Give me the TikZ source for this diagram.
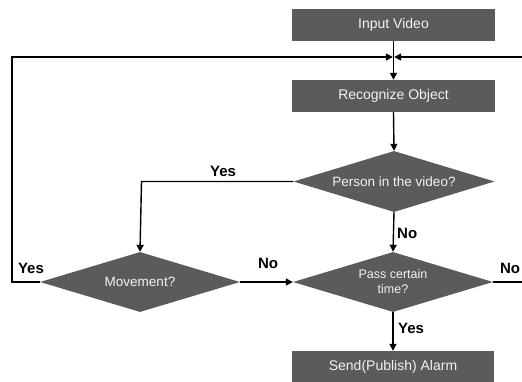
\documentclass[tikz,border=0pt]{standalone}
\usepackage{fontspec}
\setmainfont{Liberation Sans}
\usetikzlibrary{shapes.geometric,arrows.meta}
\definecolor{boxgray}{HTML}{5B5B5B}
\definecolor{boxtext}{HTML}{F2F2F2}
\tikzset{
  procbox/.style={rectangle, fill=boxgray, text=boxtext, minimum width=203pt, minimum height=32pt, inner sep=0pt, font=\fontsize{14}{16}\selectfont},
  decide/.style={diamond, fill=boxgray, text=boxtext, inner sep=0pt, aspect=3.3, minimum width=201pt, minimum height=61pt, align=center, font=\fontsize{13.5}{15}\selectfont},
  conn/.style={line width=1.4pt, black},
  arr/.style={conn, -{Triangle[length=7pt,width=7pt]}},
  lbl/.style={font=\bfseries\fontsize{15}{17}\selectfont, inner sep=0pt}
}
\begin{document}
\begin{tikzpicture}[x=1pt,y=1pt]
\useasboundingbox (0,0) rectangle (522,381);
\node[procbox] (in) at (393.5,356) {Input Video};
\node[procbox] (rec) at (393.5,285) {Recognize Object};
\node[decide] (person) at (394,199.5) {Person in the video?};
\node[decide, minimum width=200pt, minimum height=60pt] (move) at (140,99) {Movement?};
\node[decide, minimum width=200pt, minimum height=60pt, font=\fontsize{12.5}{15}\selectfont] (pass) at (393,99) {Pass certain\\time?};
\node[procbox, minimum width=202pt] (send) at (393,14) {Send(Publish) Alarm};
\coordinate (J) at (393.5,324);
\coordinate (L1) at (12,99);
\coordinate (L2) at (12,324);
\coordinate (R1) at (535,99);
\coordinate (R2) at (535,324);
\coordinate (Y1) at (141.5,199.5);
\draw[conn] (in.south) -- (J);
\draw[arr] (J) -- (rec.north);
\draw[arr] (rec.south) -- (person.north);
\draw[arr] (person.west) -- (Y1) -- (move.north);
\draw[arr] (person.south) -- (pass.north);
\draw[arr] (move.east) -- (pass.west);
\draw[arr] (pass.south) -- (send.north);
\draw[arr] (move.west) -- (L1) -- (L2) -- ([xshift=-0.7pt]J);
\draw[arr] (pass.east) -- (R1) -- (R2) -- ([xshift=0.7pt]J);
\node[lbl] (yes1) at (223,210) {Yes};
\node[lbl, anchor=west] (no1) at (397,148) {No};
\node[lbl] (no2) at (268,118) {No};
\node[lbl] (yes2) at (31,113) {Yes};
\node[lbl] (no3) at (510,113) {No};
\node[lbl, anchor=west] (yes3) at (398,53) {Yes};
\end{tikzpicture}
\end{document}
